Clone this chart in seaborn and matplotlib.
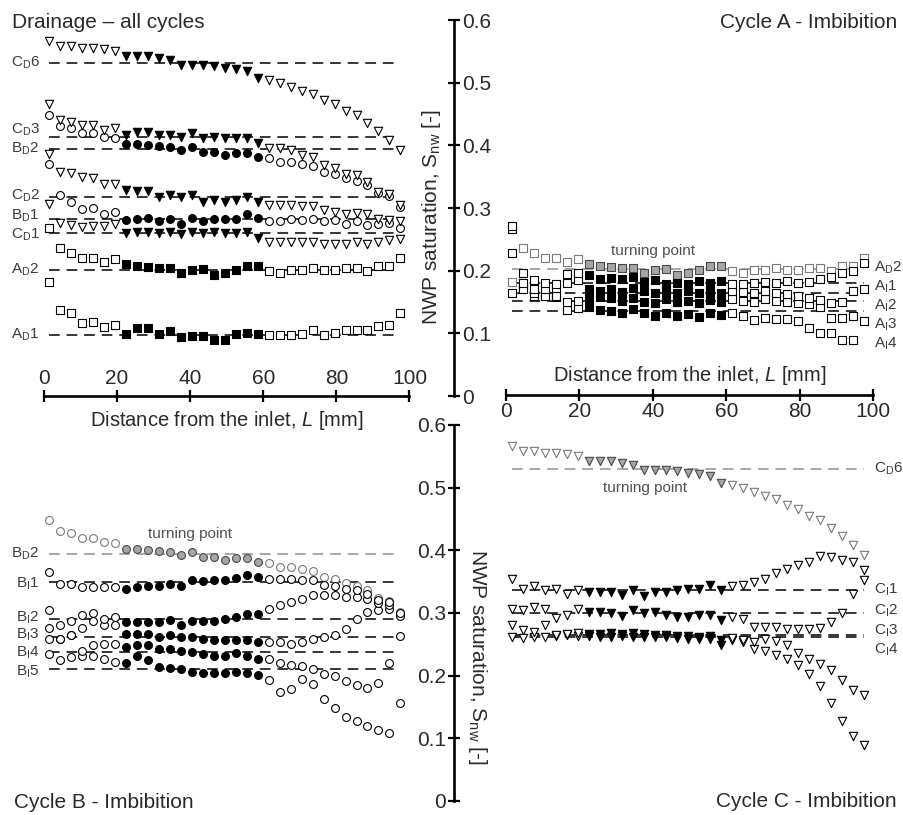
import numpy as np
import pandas as pd
import matplotlib
matplotlib.use("Agg")
import matplotlib.pyplot as plt
import seaborn as sns

# ---------------- data ----------------
nan = float("nan")
L_MM = [1.5, 4.5, 7.5, 10.5, 13.5, 16.5, 19.5, 22.5, 25.5, 28.5, 31.5, 34.5, 37.5,
        40.5, 43.5, 46.5, 49.5, 52.5, 55.5, 58.5, 61.5, 64.5, 67.5, 70.5, 73.5,
        76.5, 79.5, 82.5, 85.5, 88.5, 91.5, 94.5, 97.5]
STABLE = (22.0, 59.0)          # filled-marker (stable) window, mm

# Drainage profiles
CD6 = [0.567, 0.559, 0.558, 0.555, 0.556, 0.553, 0.551, 0.543, 0.542, 0.542, 0.539, 0.536, 0.528,
       0.528, 0.528, 0.526, 0.523, 0.522, 0.519, 0.508, 0.504, 0.499, 0.493, 0.487, 0.482,
       0.472, 0.466, 0.455, 0.448, 0.435, 0.423, 0.409, 0.392]
CD3 = [0.466, 0.440, 0.438, 0.433, 0.433, 0.424, 0.427, 0.416, 0.422, 0.421, 0.416, 0.416, 0.414,
       0.419, 0.411, 0.414, 0.411, 0.411, 0.411, 0.403, 0.395, 0.395, 0.393, 0.385, 0.382,
       0.368, 0.364, 0.354, 0.352, 0.341, 0.326, 0.322, 0.305]
BD2 = [0.448, 0.431, 0.427, 0.419, 0.419, 0.414, 0.411, 0.402, 0.402, 0.400, 0.399, 0.397, 0.393,
       0.397, 0.390, 0.390, 0.385, 0.388, 0.388, 0.381, 0.379, 0.374, 0.374, 0.370, 0.367,
       0.358, 0.355, 0.348, 0.343, 0.336, 0.324, 0.319, 0.302]
CD2 = [0.386, 0.358, 0.356, 0.350, 0.348, 0.339, 0.338, 0.329, 0.327, 0.327, 0.318, 0.320, 0.318,
       0.320, 0.310, 0.312, 0.310, 0.312, 0.318, 0.310, 0.305, 0.305, 0.304, 0.303, 0.303,
       0.297, 0.294, 0.291, 0.292, 0.290, 0.282, 0.281, 0.280]
BD1 = [0.371, 0.321, 0.310, 0.299, 0.300, 0.291, 0.293, 0.281, 0.283, 0.284, 0.279, 0.283, 0.275,
       0.284, 0.280, 0.283, 0.283, 0.283, 0.291, 0.284, 0.279, 0.279, 0.283, 0.281, 0.283,
       0.279, 0.281, 0.275, 0.279, 0.273, 0.275, 0.276, 0.268]
CD1 = [0.307, 0.276, 0.273, 0.270, 0.272, 0.272, 0.274, 0.260, 0.261, 0.262, 0.260, 0.262, 0.259,
       0.261, 0.260, 0.262, 0.260, 0.260, 0.261, 0.252, 0.246, 0.245, 0.245, 0.245, 0.245,
       0.243, 0.243, 0.243, 0.245, 0.242, 0.245, 0.249, 0.250]
AD2 = [0.182, 0.236, 0.228, 0.221, 0.221, 0.214, 0.218, 0.211, 0.207, 0.206, 0.205, 0.204, 0.196,
       0.201, 0.202, 0.193, 0.196, 0.201, 0.207, 0.207, 0.200, 0.197, 0.201, 0.201, 0.204,
       0.201, 0.201, 0.204, 0.204, 0.200, 0.207, 0.207, 0.221]
AD1 = [0.268, 0.138, 0.132, 0.117, 0.118, 0.110, 0.113, 0.099, 0.108, 0.108, 0.099, 0.103, 0.094,
       0.095, 0.095, 0.089, 0.090, 0.099, 0.101, 0.099, 0.098, 0.098, 0.098, 0.099, 0.106,
       0.097, 0.101, 0.105, 0.105, 0.105, 0.112, 0.113, 0.133]

# Cycle A imbibition
AI1 = [0.272, 0.196, 0.185, 0.180, 0.178, 0.195, 0.197, 0.193, 0.187, 0.188, 0.186, 0.190, 0.182,
       0.185, 0.178, 0.181, 0.178, 0.184, 0.180, 0.183, 0.178, 0.179, 0.180, 0.182, 0.180,
       0.183, 0.181, 0.182, 0.186, 0.190, 0.196, 0.200, 0.212]
AI2 = [0.266, 0.180, 0.170, 0.170, 0.172, 0.180, 0.185, 0.170, 0.168, 0.170, 0.166, 0.172, 0.168,
       0.164, 0.168, 0.165, 0.168, 0.164, 0.168, 0.165, 0.168, 0.166, 0.165, 0.167, 0.164,
       0.162, 0.160, 0.156, 0.153, 0.148, 0.150, 0.168, 0.170]
AI3 = [0.228, 0.170, 0.165, 0.160, 0.160, 0.150, 0.152, 0.156, 0.158, 0.156, 0.152, 0.157, 0.150,
       0.149, 0.154, 0.150, 0.151, 0.148, 0.153, 0.150, 0.155, 0.152, 0.150, 0.154, 0.152,
       0.150, 0.148, 0.147, 0.142, 0.124, 0.124, 0.127, 0.119]
AI4 = [0.165, 0.175, 0.160, 0.162, 0.158, 0.137, 0.140, 0.142, 0.137, 0.135, 0.133, 0.139, 0.132,
       0.128, 0.133, 0.127, 0.131, 0.126, 0.132, 0.130, 0.132, 0.128, 0.121, 0.124, 0.123,
       0.123, 0.119, 0.108, 0.101, 0.100, 0.090, 0.090, nan]

# Cycle B imbibition
BI1 = [0.366, 0.346, 0.346, 0.341, 0.342, 0.341, 0.341, 0.338, 0.341, 0.343, 0.343, 0.346, 0.343,
       0.352, 0.351, 0.352, 0.352, 0.356, 0.361, 0.357, 0.355, 0.354, 0.355, 0.352, 0.352,
       0.345, 0.343, 0.339, 0.337, 0.331, 0.321, 0.318, 0.300]
BI2 = [0.305, 0.281, 0.288, 0.297, 0.300, 0.291, 0.293, 0.286, 0.286, 0.286, 0.286, 0.289, 0.281,
       0.288, 0.288, 0.288, 0.291, 0.293, 0.299, 0.299, 0.306, 0.313, 0.318, 0.323, 0.329,
       0.329, 0.329, 0.325, 0.325, 0.323, 0.316, 0.312, 0.296]
BI3 = [0.276, 0.259, 0.265, 0.276, 0.288, 0.281, 0.281, 0.267, 0.267, 0.267, 0.262, 0.265, 0.262,
       0.262, 0.259, 0.257, 0.257, 0.257, 0.257, 0.253, 0.254, 0.254, 0.250, 0.254, 0.259,
       0.261, 0.265, 0.274, 0.291, 0.302, 0.305, 0.307, 0.263]
BI4 = [0.259, 0.259, 0.265, 0.239, 0.249, 0.250, 0.250, 0.246, 0.249, 0.249, 0.243, 0.243, 0.239,
       0.238, 0.235, 0.231, 0.231, 0.236, 0.231, 0.226, 0.226, 0.221, 0.217, 0.215, 0.210,
       0.203, 0.199, 0.191, 0.185, 0.181, 0.189, 0.220, nan]
BI5 = [0.235, 0.225, 0.230, 0.232, 0.231, 0.227, 0.222, 0.221, 0.231, 0.225, 0.214, 0.213, 0.210,
       0.206, 0.204, 0.204, 0.205, 0.206, 0.205, 0.201, 0.193, 0.174, 0.178, 0.195, 0.187,
       0.163, 0.148, 0.134, 0.128, 0.119, 0.113, 0.108, 0.156]

# Cycle C imbibition
CI1 = [0.354, 0.339, 0.343, 0.337, 0.338, 0.330, 0.337, 0.334, 0.334, 0.334, 0.329, 0.336, 0.327,
       0.334, 0.334, 0.336, 0.338, 0.339, 0.344, 0.337, 0.343, 0.345, 0.350, 0.355, 0.364,
       0.371, 0.376, 0.382, 0.391, 0.389, 0.385, 0.382, 0.369]
CI2 = [0.306, 0.305, 0.310, 0.306, 0.292, 0.297, 0.306, 0.302, 0.302, 0.300, 0.295, 0.305, 0.300,
       0.301, 0.297, 0.294, 0.294, 0.297, 0.297, 0.289, 0.294, 0.290, 0.278, 0.278, 0.277,
       0.274, 0.275, 0.274, 0.276, 0.286, 0.300, 0.331, 0.353]
CI3 = [0.281, 0.273, 0.269, 0.281, 0.265, 0.267, 0.268, 0.266, 0.267, 0.268, 0.266, 0.268, 0.267,
       0.265, 0.265, 0.264, 0.263, 0.262, 0.264, 0.257, 0.260, 0.257, 0.254, 0.258, 0.256,
       0.249, 0.236, 0.227, 0.219, 0.209, 0.193, 0.177, 0.169]
CI4 = [0.262, 0.260, 0.262, 0.262, 0.264, 0.265, 0.263, 0.263, 0.262, 0.262, 0.263, 0.261, 0.262,
       0.262, 0.261, 0.260, 0.259, 0.258, 0.259, 0.249, 0.257, 0.254, 0.243, 0.240, 0.233,
       0.226, 0.217, 0.203, 0.184, 0.156, 0.127, 0.103, 0.090]

# reference (dashed) levels
LEV_TL = {"CD6": 0.531, "CD3": 0.414, "BD2": 0.394, "CD2": 0.318, "BD1": 0.283,
          "CD1": 0.260, "AD2": 0.201, "AD1": 0.097}
LEV_A = {"AD2": 0.202, "AI1": 0.181, "AI2": 0.164, "AI3": 0.152, "AI4": 0.136}
LEV_B = {"BD2": 0.394, "BI1": 0.350, "BI2": 0.290, "BI3": 0.262, "BI4": 0.238, "BI5": 0.211}
LEV_C = {"CD6": 0.530, "CI1": 0.336, "CI2": 0.300, "CI3": 0.265, "CI4": 0.262}

LABELS = {"CD6": r"C$_\mathrm{D}$6", "CD3": r"C$_\mathrm{D}$3", "CD2": r"C$_\mathrm{D}$2",
          "CD1": r"C$_\mathrm{D}$1", "BD2": r"B$_\mathrm{D}$2", "BD1": r"B$_\mathrm{D}$1",
          "AD2": r"A$_\mathrm{D}$2", "AD1": r"A$_\mathrm{D}$1",
          "AI1": r"A$_\mathrm{I}$1", "AI2": r"A$_\mathrm{I}$2", "AI3": r"A$_\mathrm{I}$3",
          "AI4": r"A$_\mathrm{I}$4",
          "BI1": r"B$_\mathrm{I}$1", "BI2": r"B$_\mathrm{I}$2", "BI3": r"B$_\mathrm{I}$3",
          "BI4": r"B$_\mathrm{I}$4", "BI5": r"B$_\mathrm{I}$5",
          "CI1": r"C$_\mathrm{I}$1", "CI2": r"C$_\mathrm{I}$2", "CI3": r"C$_\mathrm{I}$3",
          "CI4": r"C$_\mathrm{I}$4"}

Y_TICKS = [0, 0.1, 0.2, 0.3, 0.4, 0.5, 0.6]
Y_TICKLABELS = ["0", "0.1", "0.2", "0.3", "0.4", "0.5", "0.6"]
X_TICKS = [0, 20, 40, 60, 80, 100]

# ---------------- style ----------------
sns.set_theme(style="white")
plt.rcParams['font.family'] = ['Liberation Sans', 'DejaVu Sans']
plt.rcParams['mathtext.fontset'] = 'custom'
plt.rcParams['mathtext.rm'] = 'Liberation Sans'
plt.rcParams['mathtext.it'] = 'Liberation Sans:italic'
plt.rcParams['mathtext.default'] = 'regular'

W, H = 904, 815
fig = plt.figure(figsize=(W / 100, H / 100), dpi=100)
fig.patch.set_facecolor("white")


def rect(x0, x1, ytop, ybot):
    return [x0 / W, 1 - ybot / H, max(x1 - x0, 0.05) / W, max(ybot - ytop, 0.05) / H]


TXT = "#2a2a2a"
LBL = "#3c3c3c"
GRAY_LINE = "#8f8f8f"
GRAY_EDGE = "#7a7a7a"
GRAY_FILL = "#a6a6a6"
GRAY_DARK = "#4a4a4a"
DASH = (0, (7, 4.5))
SZ = {"v": 36, "o": 32, "s": 30}
LBL_FS = 11


def data_axes(x0, x1, ytop, ybot):
    ax = fig.add_axes(rect(x0, x1, ytop, ybot))
    ax.set_xlim(0, 100)
    ax.set_ylim(0, 0.6)
    ax.set_axis_off()
    return ax


def series(ax, y, marker, gray=False, z=3):
    df = pd.DataFrame({"L": L_MM, "S": y}).dropna()
    stable = df["L"].between(*STABLE)
    if gray:
        okw = dict(color="white", edgecolor=GRAY_EDGE)
        fkw = dict(color=GRAY_FILL, edgecolor=GRAY_DARK)
    else:
        okw = dict(color="white", edgecolor="black")
        fkw = dict(color="black", edgecolor="black")
    sns.scatterplot(data=df[~stable], x="L", y="S", marker=marker, s=SZ[marker],
                    linewidth=0.8, ax=ax, zorder=z, legend=False, **okw)
    sns.scatterplot(data=df[stable], x="L", y="S", marker=marker, s=SZ[marker],
                    linewidth=0.8, ax=ax, zorder=z, legend=False, **fkw)


def levels(ax, lev, gray_keys=()):
    for k, v in lev.items():
        ax.hlines(v, 1.5, 97.5, colors=GRAY_LINE if k in gray_keys else "black",
                  linestyles=DASH, lw=1.1, zorder=1)


# ---------- top-left: drainage ----------
ax_tl = data_axes(44, 409.5, 20, 396)
levels(ax_tl, LEV_TL)
for key, arr, mk in [("AD1", AD1, "s"), ("AD2", AD2, "s"), ("CD1", CD1, "v"), ("BD1", BD1, "o"),
                     ("CD2", CD2, "v"), ("BD2", BD2, "o"), ("CD3", CD3, "v"), ("CD6", CD6, "v")]:
    series(ax_tl, arr, mk)
TL_LABEL_Y = {"CD6": 0.531, "CD3": 0.424, "BD2": 0.395, "CD2": 0.319, "BD1": 0.287,
              "CD1": 0.257, "AD2": 0.201, "AD1": 0.097}
for k, yv in TL_LABEL_Y.items():
    ax_tl.text(-1.2, yv, LABELS[k], ha="right", va="center", fontsize=LBL_FS, color=LBL)

# ---------- top-right: cycle A ----------
ax_tr = data_axes(506, 873, 20, 396)
levels(ax_tr, LEV_A, gray_keys=("AD2",))
series(ax_tr, AD2, "s", gray=True, z=2)
for arr in (AI4, AI3, AI2, AI1):
    series(ax_tr, arr, "s")
A_LABEL_Y = {"AD2": 0.204, "AI1": 0.174, "AI2": 0.144, "AI3": 0.113, "AI4": 0.083}
for k, yv in A_LABEL_Y.items():
    ax_tr.text(100.4, yv, LABELS[k], ha="left", va="center", fontsize=LBL_FS, color=LBL)
ax_tr.text(40, 0.231, "turning point", ha="center", va="center", fontsize=11, color="#505050")

# ---------- bottom-left: cycle B ----------
ax_bl = data_axes(44, 409.5, 425, 801)
levels(ax_bl, LEV_B, gray_keys=("BD2",))
series(ax_bl, BD2, "o", gray=True, z=2)
for arr in (BI5, BI4, BI3, BI2, BI1):
    series(ax_bl, arr, "o")
B_LABEL_Y = {"BD2": 0.395, "BI1": 0.347, "BI2": 0.293, "BI3": 0.265, "BI4": 0.236, "BI5": 0.206}
for k, yv in B_LABEL_Y.items():
    ax_bl.text(-1.2, yv, LABELS[k], ha="right", va="center", fontsize=LBL_FS, color=LBL)
ax_bl.text(40, 0.426, "turning point", ha="center", va="center", fontsize=11, color="#505050")

# ---------- bottom-right: cycle C ----------
ax_br = data_axes(506, 873, 425, 801)
levels(ax_br, LEV_C, gray_keys=("CD6",))
series(ax_br, CD6, "v", gray=True, z=2)
for arr in (CI4, CI3, CI2, CI1):
    series(ax_br, arr, "v")
C_LABEL_Y = {"CD6": 0.530, "CI1": 0.337, "CI2": 0.304, "CI3": 0.272, "CI4": 0.242}
for k, yv in C_LABEL_Y.items():
    ax_br.text(100.4, yv, LABELS[k], ha="left", va="center", fontsize=LBL_FS, color=LBL)
ax_br.text(38, 0.500, "turning point", ha="center", va="center", fontsize=11, color="#505050")

# ---------- axis lines ----------
AX_LW = 1.9
XLABEL = r"Distance from the inlet, $\mathit{L}$ [mm]"
YLABEL = r"NWP saturation, S$_\mathrm{nw}$ [-]"


def strip(ax):
    ax.set_facecolor("none")
    for s in ax.spines.values():
        s.set_visible(False)


# top-left x axis (labels above, title below)
axx1 = fig.add_axes(rect(44, 409.5, 396, 396))
strip(axx1)
axx1.set_xlim(0, 100)
axx1.set_yticks([])
axx1.spines["top"].set_visible(True)
axx1.spines["top"].set_linewidth(AX_LW)
axx1.spines["top"].set_color("black")
axx1.xaxis.set_ticks_position("top")
axx1.set_xticks(X_TICKS)
axx1.tick_params(axis="x", direction="inout", length=9, width=1.6, color="black",
                 labelsize=15, labelcolor=TXT, pad=1, top=True, bottom=False,
                 labeltop=True, labelbottom=False)
axx1.xaxis.set_label_position("bottom")
axx1.set_xlabel(XLABEL, fontsize=14.5, color=TXT, labelpad=9)

# top-right x axis (labels below, title above)
axx2 = fig.add_axes(rect(506, 873, 394.5, 394.5))
strip(axx2)
axx2.set_xlim(0, 100)
axx2.set_yticks([])
axx2.spines["bottom"].set_visible(True)
axx2.spines["bottom"].set_linewidth(AX_LW)
axx2.spines["bottom"].set_color("black")
axx2.xaxis.set_ticks_position("bottom")
axx2.set_xticks(X_TICKS)
axx2.tick_params(axis="x", direction="inout", length=9, width=1.6, color="black",
                 labelsize=15, labelcolor=TXT, pad=1, top=False, bottom=True,
                 labeltop=False, labelbottom=True)
axx2.xaxis.set_label_position("top")
axx2.set_xlabel(XLABEL, fontsize=14.5, color=TXT, labelpad=10)

# top shared y axis (labels right, title left)
axy1 = fig.add_axes(rect(454, 454, 20, 396))
strip(axy1)
axy1.set_ylim(0, 0.6)
axy1.set_xticks([])
axy1.spines["right"].set_visible(True)
axy1.spines["right"].set_linewidth(AX_LW)
axy1.spines["right"].set_color("black")
axy1.yaxis.set_ticks_position("right")
axy1.set_yticks(Y_TICKS)
axy1.set_yticklabels(Y_TICKLABELS)
axy1.tick_params(axis="y", direction="inout", length=9, width=1.6, color="black",
                 labelsize=15, labelcolor=TXT, pad=1, right=True, left=False,
                 labelright=True, labelleft=False)
axy1.set_ylabel(YLABEL, fontsize=15, color=TXT)
axy1.yaxis.set_label_position("left")
axy1.yaxis.label.set(va="center", ha="center", rotation=90)
axy1.yaxis.set_label_coords(432 / W, 1 - 217 / H, transform=fig.transFigure)

# bottom shared y axis (labels left, title right)
axy2 = fig.add_axes(rect(454, 454, 425, 801))
strip(axy2)
axy2.set_ylim(0, 0.6)
axy2.set_xticks([])
axy2.spines["left"].set_visible(True)
axy2.spines["left"].set_linewidth(AX_LW)
axy2.spines["left"].set_color("black")
axy2.yaxis.set_ticks_position("left")
axy2.set_yticks(Y_TICKS)
axy2.set_yticklabels(Y_TICKLABELS)
axy2.tick_params(axis="y", direction="inout", length=9, width=1.6, color="black",
                 labelsize=15, labelcolor=TXT, pad=1, right=False, left=True,
                 labelright=False, labelleft=True)
axy2.set_ylabel(YLABEL, fontsize=15, color=TXT)
axy2.yaxis.set_label_position("right")
axy2.yaxis.label.set(va="center", ha="center", rotation=270)
axy2.yaxis.set_label_coords(478 / W, 1 - 657 / H, transform=fig.transFigure)

# ---------- panel titles ----------
fig.text(12 / W, 1 - 28 / H, "Drainage \u2013 all cycles", fontsize=15, color=TXT,
         ha="left", va="baseline")
fig.text(897 / W, 1 - 28 / H, "Cycle A - Imbibition", fontsize=15, color=TXT,
         ha="right", va="baseline")
fig.text(14 / W, 1 - 808 / H, "Cycle B - Imbibition", fontsize=15, color=TXT,
         ha="left", va="baseline")
fig.text(897 / W, 1 - 807 / H, "Cycle C - Imbibition", fontsize=15, color=TXT,
         ha="right", va="baseline")

fig.savefig("out.png", dpi=100, facecolor="white")
